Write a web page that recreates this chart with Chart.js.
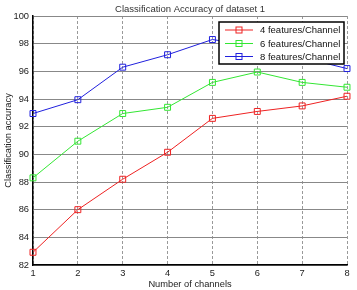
<!DOCTYPE html>
<html>
<head>
<meta charset="utf-8">
<script src="https://cdn.jsdelivr.net/npm/chart.js@4/dist/chart.umd.min.js"></script>
<style>
html,body{margin:0;padding:0;background:#fff;}
#c{display:block;}
</style>
</head>
<body>
<canvas id="c" width="357" height="290"></canvas>
<script>
const categories = ['1','2','3','4','5','6','7','8'];
const seriesNames = ['4 features/Channel','6 features/Channel','8 features/Channel'];
const feat4 = [82.92, 86.0, 88.2, 90.15, 92.6, 93.1, 93.5, 94.2];
const feat6 = [88.3, 90.95, 92.95, 93.4, 95.2, 95.95, 95.2, 94.85];
const feat8 = [92.95, 93.95, 96.3, 97.2, 98.3, 97.8, 97.0, 96.2];
const yTicks = [82, 84, 86, 88, 90, 92, 94, 96, 98, 100];
const colors = ['#ee2222', '#33e633', '#2020dd'];
const titleText = 'Classification Accuracy of dataset 1';
const xTitle = 'Number of channels';
const yTitle = 'Classification accuracy';
const FONT = '"Liberation Sans", Arial, sans-serif';

const annot = {
  id: 'annot',
  afterDatasetsDraw(chart) {
    const ctx = chart.ctx;
    ctx.save();
    const lx = 219, ly = 22, lw = 125, lh = 42;
    ctx.fillStyle = '#fff';
    ctx.fillRect(lx, ly, lw, lh);
    ctx.strokeStyle = '#000';
    ctx.lineWidth = 1.5;
    ctx.strokeRect(lx, ly, lw, lh);
    const rows = [30, 43.5, 56.5];
    ctx.font = '9.5px ' + FONT;
    ctx.textBaseline = 'middle';
    ctx.textAlign = 'left';
    seriesNames.forEach((n, i) => {
      const y = rows[i];
      ctx.strokeStyle = colors[i];
      ctx.lineWidth = 1;
      ctx.beginPath();
      ctx.moveTo(225, y); ctx.lineTo(253, y); ctx.stroke();
      ctx.strokeRect(236, y - 3, 6, 6);
      ctx.fillStyle = '#111';
      ctx.fillText(n, 260, y + 0.5);
    });
    ctx.restore();
  },
  afterDraw(chart) {
    const ctx = chart.ctx;
    const a = chart.chartArea;
    ctx.save();
    ctx.fillStyle = '#333';
    ctx.font = '9.5px ' + FONT;
    ctx.textAlign = 'center';
    ctx.textBaseline = 'middle';
    ctx.fillText(titleText, (a.left + a.right) / 2, 9);
    ctx.fillStyle = '#222';
    ctx.font = '9.3px ' + FONT;
    ctx.fillText(xTitle, (a.left + a.right) / 2, 284);
    ctx.translate(8, (a.top + a.bottom) / 2);
    ctx.rotate(-Math.PI / 2);
    ctx.fillText(yTitle, 0, 0);
    ctx.restore();
  }
};

new Chart(document.getElementById('c'), {
  type: 'line',
  data: {
    labels: categories,
    datasets: [feat4, feat6, feat8].map((d, i) => ({
      label: seriesNames[i],
      data: d,
      borderColor: colors[i],
      backgroundColor: 'rgba(0,0,0,0)',
      borderWidth: 1,
      pointStyle: 'rect',
      pointRadius: 4.2,
      pointBorderWidth: 1,
      pointBorderColor: colors[i],
      pointBackgroundColor: 'rgba(0,0,0,0)',
      tension: 0
    }))
  },
  options: {
    responsive: false,
    animation: false,
    events: [],
    layout: { padding: { left: 0, right: 10, top: 16, bottom: 0 } },
    plugins: { legend: { display: false }, title: { display: false }, tooltip: { enabled: false } },
    scales: {
      x: {
        type: 'category',
        offset: false,
        afterFit(s) { s.height = 25; },
        grid: { color: '#999', lineWidth: 1, drawTicks: false },
        border: { color: '#000', width: 1.5, dash: [3, 2] },
        ticks: { color: '#222', font: { family: FONT, size: 9.3 }, padding: 3, maxRotation: 0 }
      },
      y: {
        type: 'linear',
        min: 82, max: 100,
        afterFit(s) { s.width = 33; },
        afterBuildTicks(s) { s.ticks = yTicks.map(v => ({ value: v })); },
        grid: { color: '#888', lineWidth: 1, drawTicks: false },
        border: { color: '#000', width: 1.5 },
        ticks: { color: '#222', font: { family: FONT, size: 9.3 }, padding: 4 }
      }
    }
  },
  plugins: [annot]
});
</script>
</body>
</html>
